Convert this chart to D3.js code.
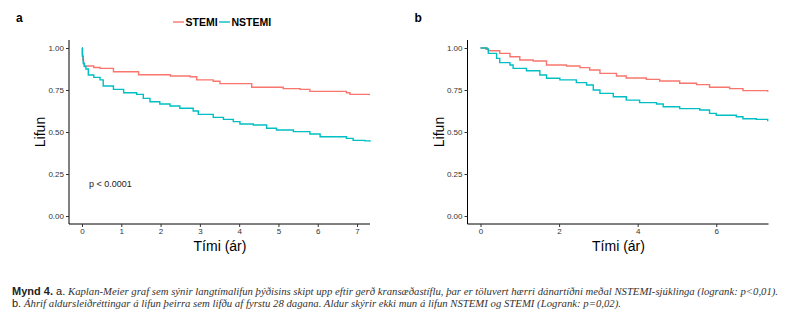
<!DOCTYPE html>
<html>
<head>
<meta charset="utf-8">
<script src="https://cdn.jsdelivr.net/npm/d3@7"></script>
<style>
  body { margin: 0; background: #fff; }
  svg { display: block; }
</style>
</head>
<body>
<svg id="chart" width="800" height="327"></svg>
<script>
// survival curves: [time in years, survival]
const stemiA = [[0,1],[0.01,0.96],[0.02,0.93],[0.04,0.905],[0.06,0.893],[0.3,0.884],[0.46,0.879],[0.8,0.859],[1.44,0.841],[2.25,0.833],[2.75,0.829],[2.92,0.81],[3.34,0.802],[3.51,0.788],[4.32,0.766],[5.12,0.758],[5.55,0.754],[5.8,0.742],[6.73,0.734],[6.82,0.724],[7.33,0.724]]
const nstemiA = [[0,1],[0.01,0.95],[0.03,0.91],[0.06,0.89],[0.1,0.875],[0.16,0.839],[0.3,0.825],[0.46,0.81],[0.54,0.774],[0.8,0.754],[1.06,0.734],[1.39,0.724],[1.56,0.70],[1.73,0.68],[1.98,0.667],[2.24,0.655],[2.49,0.641],[2.83,0.625],[2.96,0.605],[3.34,0.587],[3.6,0.575],[3.85,0.562],[4.02,0.548],[4.36,0.542],[4.7,0.522],[4.95,0.512],[5.38,0.502],[5.8,0.488],[6.06,0.472],[6.73,0.462],[6.9,0.45],[7.2,0.447],[7.33,0.442]]
const stemiB = [[0,1],[0.14,0.992],[0.2,0.984],[0.49,0.968],[0.75,0.948],[1.0,0.929],[1.34,0.923],[1.68,0.899],[2.19,0.893],[2.53,0.883],[2.78,0.869],[3.04,0.849],[3.46,0.833],[3.71,0.821],[4.22,0.813],[4.56,0.804],[5.07,0.79],[5.5,0.782],[5.83,0.766],[6.34,0.758],[6.68,0.746],[7.31,0.74]]
const nstemiB = [[0,1],[0.17,0.995],[0.2,0.968],[0.41,0.938],[0.49,0.913],[0.75,0.899],[0.83,0.879],[1.17,0.865],[1.51,0.839],[1.68,0.82],[2.02,0.81],[2.44,0.794],[2.7,0.78],[2.87,0.75],[3.04,0.73],[3.38,0.71],[3.71,0.69],[4.05,0.675],[4.48,0.667],[4.65,0.65],[5.07,0.639],[5.58,0.631],[5.83,0.611],[6.0,0.60],[6.51,0.591],[6.68,0.579],[7.02,0.575],[7.31,0.564]]

const yTicks = [0, 0.25, 0.5, 0.75, 1]
const xTicksA = [0, 1, 2, 3, 4, 5, 6, 7]
const xTicksB = [0, 2, 4, 6]
const seriesNames = ["STEMI", "NSTEMI"]
const colors = ["#F8766D", "#00BFC4"]

const svg = d3.select("#chart")
const sans = "Liberation Sans, Arial, sans-serif"

function drawPanel(left, label, curves, xTicks, pText) {
  // left = position of the y axis line
  const g = svg.append("g")
  const x = d3.scaleLinear().domain([0, 7.33]).range([left + 13, left + 301])
  const y = d3.scaleLinear().domain([0, 1]).range([216, 48])

  // axis lines
  g.append("line").attr("x1", left).attr("x2", left).attr("y1", 40).attr("y2", 224)
    .attr("stroke", "#000").attr("stroke-width", 1)
  g.append("line").attr("x1", left).attr("x2", left + 301).attr("y1", 224).attr("y2", 224)
    .attr("stroke", "#000").attr("stroke-width", 1)

  const yAxis = g.append("g").attr("transform", `translate(${left},0)`)
    .call(d3.axisLeft(y).tickValues(yTicks).tickFormat(d3.format(".2f")).tickSize(3).tickPadding(2))
  const xAxis = g.append("g").attr("transform", "translate(0,224)")
    .call(d3.axisBottom(x).tickValues(xTicks).tickFormat(d3.format("d")).tickSize(3).tickPadding(1))
  for (const a of [yAxis, xAxis]) {
    a.select(".domain").remove()
    a.selectAll("line").attr("stroke", "#333")
    a.selectAll("text").attr("fill", "#333").style("font-family", sans).style("font-size", "8px")
  }

  const line = d3.line().x(d => x(d[0])).y(d => y(d[1])).curve(d3.curveStepAfter)
  curves.forEach((c, i) => {
    g.append("path").datum(c).attr("d", line)
      .attr("fill", "none").attr("stroke", colors[i]).attr("stroke-width", 1.4)
  })

  g.append("text").attr("x", left - 53).attr("y", 22).text(label)
    .style("font-family", sans).style("font-size", "12px").style("font-weight", "bold")

  g.append("text").attr("transform", `translate(${left - 24},132) rotate(-90)`)
    .attr("text-anchor", "middle").text("Lifun")
    .style("font-family", sans).style("font-size", "14px")

  g.append("text").attr("x", left + 151).attr("y", 251).attr("text-anchor", "middle").text("Tími (ár)")
    .style("font-family", sans).style("font-size", "14px")

  if (pText) {
    g.append("text").attr("x", x(0.18)).attr("y", 187).text(pText)
      .style("font-family", sans).style("font-size", "9px").attr("fill", "#222")
  }
}

drawPanel(69, "a", [stemiA, nstemiA], xTicksA, "p < 0.0001")
drawPanel(467.5, "b", [stemiB, nstemiB], xTicksB, null)

// legend
const legend = svg.append("g")
const legendX = [173, 219]
seriesNames.forEach((name, i) => {
  legend.append("line").attr("x1", legendX[i]).attr("x2", legendX[i] + 11).attr("y1", 22).attr("y2", 22)
    .attr("stroke", colors[i]).attr("stroke-width", 1.4)
  legend.append("text").attr("x", legendX[i] + 12.5).attr("y", 26).text(name)
    .style("font-family", sans).style("font-size", "10.5px").style("font-weight", "bold")
})

// caption
const captionLines = [
  { bold: "Mynd 4.", plain: " a.", italic: "Kaplan-Meier graf sem sýnir langtímalifun þýðisins skipt upp eftir gerð kransæðastíflu, þar er töluvert hærri dánartíðni meðal NSTEMI-sjúklinga (logrank: p<0,01).", y: 295, start: 68, end: 778 },
  { bold: "", plain: "b.", italic: "Áhrif aldursleiðréttingar á lifun þeirra sem lifðu af fyrstu 28 dagana. Aldur skýrir ekki mun á lifun NSTEMI og STEMI (Logrank: p=0,02).", y: 307, start: 24, end: 621 }
]
captionLines.forEach(c => {
  const t = svg.append("text").attr("x", 12).attr("y", c.y).attr("fill", "#222")
    .style("font-family", sans).style("font-size", "11px")
  if (c.bold) t.append("tspan").style("font-weight", "bold").text(c.bold)
  t.append("tspan").text(c.plain)
  svg.append("text").attr("x", c.start).attr("y", c.y).attr("fill", "#333")
    .attr("textLength", c.end - c.start).attr("lengthAdjust", "spacingAndGlyphs")
    .style("font-family", "Liberation Serif, serif").style("font-style", "italic").style("font-size", "10.5px")
    .text(c.italic)
})
</script>
</body>
</html>
